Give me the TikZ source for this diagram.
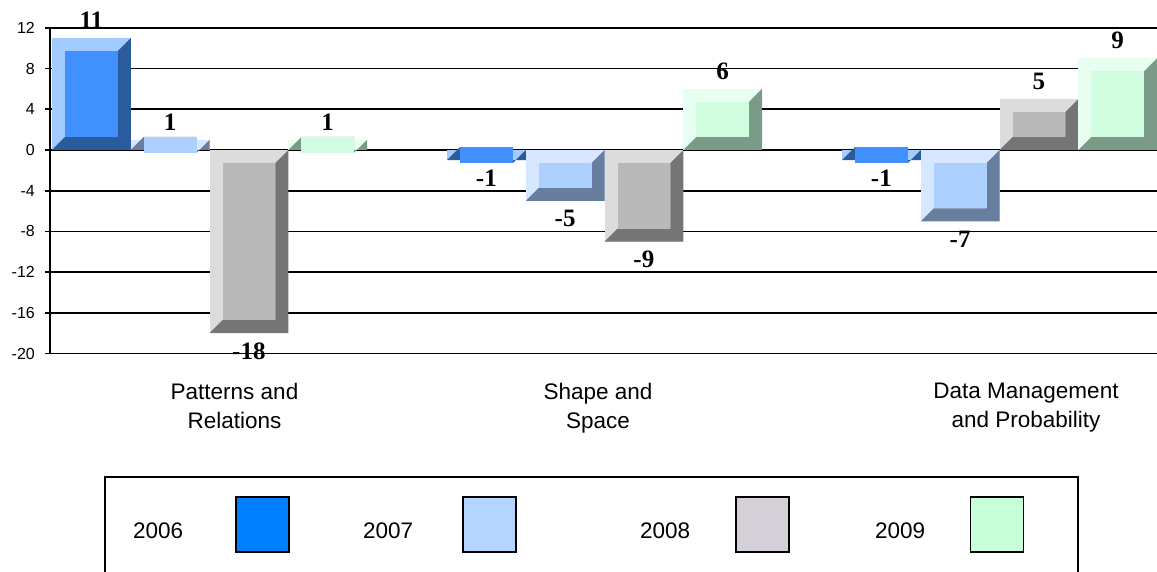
\documentclass[tikz,border=0pt]{standalone}
\usepackage{fontspec}
\setmainfont{Liberation Sans}
\newfontfamily\valfont{Liberation Serif}
\usetikzlibrary{positioning}
\definecolor{lt2006}{RGB}{164,203,255}
\definecolor{fr2006}{RGB}{65,144,255}
\definecolor{dk2006}{RGB}{42,91,156}
\definecolor{lt2007}{RGB}{214,232,255}
\definecolor{fr2007}{RGB}{173,208,255}
\definecolor{dk2007}{RGB}{104,126,158}
\definecolor{lt2008}{RGB}{220,220,220}
\definecolor{fr2008}{RGB}{185,185,185}
\definecolor{dk2008}{RGB}{117,117,117}
\definecolor{lt2009}{RGB}{230,255,240}
\definecolor{fr2009}{RGB}{208,252,224}
\definecolor{dk2009}{RGB}{123,155,136}
\definecolor{leg2006}{RGB}{0,128,255}
\definecolor{leg2007}{RGB}{179,213,255}
\definecolor{leg2008}{RGB}{213,208,216}
\definecolor{leg2009}{RGB}{198,255,218}
\tikzstyle{grid}=[line width=1.8pt, black]
\tikzstyle{ticklabel}=[anchor=east, inner sep=0pt, font=\fontsize{16}{16}\selectfont]
\tikzstyle{value}=[inner sep=0pt, font=\valfont\bfseries\fontsize{25}{25}\selectfont]
\tikzstyle{category}=[anchor=north, align=center, inner sep=0pt, font=\fontsize{22.5}{29}\selectfont]
\tikzstyle{legtext}=[anchor=base west, inner sep=0pt, font=\fontsize{22.5}{22.5}\selectfont]
\tikzstyle{swatch}=[draw=black, line width=1.5pt, minimum width=53pt, minimum height=55pt, inner sep=0pt]
% bevelled bar: left x, value, year, label name
\newcommand{\bevbar}[4]{%
	\pgfmathsetmacro\bxl{#1}
	\pgfmathsetmacro\bxr{#1+78.75}
	\pgfmathsetmacro\byb{min(0,#2)*10.18+421}
	\pgfmathsetmacro\byt{max(0,#2)*10.18+421}
	\pgfmathsetmacro\byl{#2<0 ? \byb-18 : \byt+18}
	\fill[lt#3] (\bxl,\byb) rectangle (\bxr,\byt);
	\fill[dk#3] (\bxr,\byt) -- (\bxr,\byb) -- (\bxl,\byb) -- (\bxl+13,\byb+13) -- (\bxr-13,\byb+13) -- (\bxr-13,\byt-13) -- cycle;
	\fill[fr#3] (\bxl+13,\byb+13) rectangle (\bxr-13,\byt-13);
	\node(#4)[value] at ({\bxl+39.4},\byl) {#2};
}

\begin{document}
\begin{tikzpicture}[x=1pt,y=1pt]
		\useasboundingbox (0,0) rectangle (1157,571);
		
		% grid and axis
		\foreach \v in {12,8,...,-20}{
			\draw[grid] (50,{421+10.18*\v}) -- (1157,{421+10.18*\v});
			\draw[grid] (45,{421+10.18*\v}) -- (50,{421+10.18*\v});
			\node(t\v)[ticklabel] at (35,{421+10.18*\v}) {\v};
		}
		\draw[grid] (50,{421+10.18*12}) -- (50,{421-10.18*20});
		
		% bars
		\bevbar{52}{11}{2006}{v1-1}
		\bevbar{130.75}{1}{2007}{v1-2}
		\bevbar{209.5}{-18}{2008}{v1-3}
		\bevbar{288.25}{1}{2009}{v1-4}
		\bevbar{447}{-1}{2006}{v2-1}
		\bevbar{525.75}{-5}{2007}{v2-2}
		\bevbar{604.5}{-9}{2008}{v2-3}
		\bevbar{683.25}{6}{2009}{v2-4}
		\bevbar{842}{-1}{2006}{v3-1}
		\bevbar{920.75}{-7}{2007}{v3-2}
		\bevbar{999.5}{5}{2008}{v3-3}
		\bevbar{1078.25}{9}{2009}{v3-4}
		
		% categories
		\node(c1)[category] at (234.5,188.5) {Patterns and\\Relations};
		\node(c2)[category] at (598,188.5) {Shape and\\Space};
		\node(c3)[category] at (1026,188.5) {Data Management\\and Probability};
		
		% legend
		\draw[line width=1.8pt] (105,-3) -- (105,94) -- (1078,94) -- (1078,-3);
		\node(l1)[legtext] at (133,33) {2006};
		\node(s1)[swatch,fill=leg2006] at (262.5,46.5) {};
		\node(l2)[legtext] at (363,33) {2007};
		\node(s2)[swatch,fill=leg2007] at (489.5,46.5) {};
		\node(l3)[legtext] at (640,33) {2008};
		\node(s3)[swatch,fill=leg2008] at (762.5,46.5) {};
		\node(l4)[legtext] at (875,33) {2009};
		\node(s4)[swatch,fill=leg2009] at (997,46.5) {};
	\end{tikzpicture}
\end{document}
